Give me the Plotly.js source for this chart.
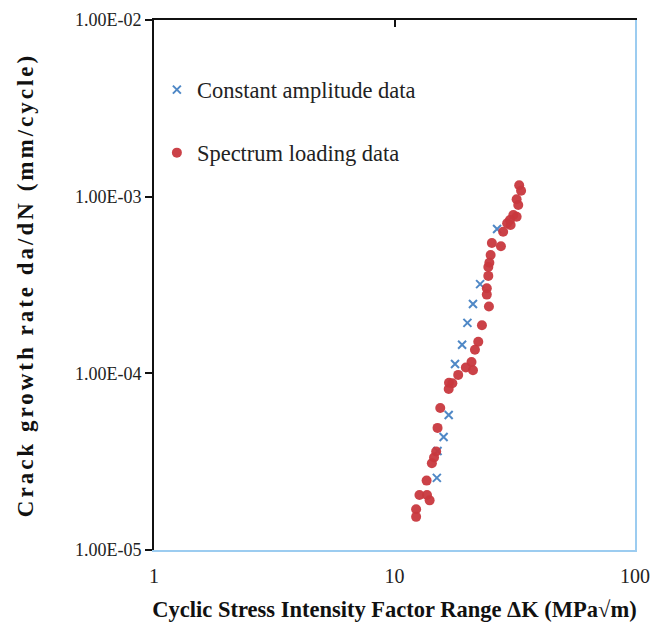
<!DOCTYPE html>
<html>
<head>
<meta charset="utf-8">
<script src="https://cdn.plot.ly/plotly-3.0.1.min.js"></script>
<style>
html,body{margin:0;padding:0;background:#fff;}
#chart{width:654px;height:634px;}
#chart .ytitle{letter-spacing:3px;}
</style>
</head>
<body>
<div id="chart"></div>
<script>
// Constant amplitude data (ΔK in MPa√m, da/dN in mm/cycle)
const caDeltaK = [15.0, 15.1, 16.0, 16.8, 17.85, 19.1, 20.1, 21.2, 22.7, 26.7];
const caRate   = [2.56e-5, 3.63e-5, 4.36e-5, 5.81e-5, 1.13e-4, 1.45e-4, 1.93e-4, 2.47e-4, 3.20e-4, 6.56e-4];

// Spectrum loading data
const slDeltaK = [33.0, 33.6, 32.2, 32.7, 31.2, 32.2, 30.2, 29.4, 30.4, 28.3,
                  25.4, 27.7, 25.1, 24.8, 24.55, 24.55, 24.2, 24.2, 24.7, 23.1,
                  22.3, 21.6, 20.9, 19.8, 21.2, 18.4, 16.85, 17.4, 16.8, 15.5,
                  15.1, 14.9, 14.6, 14.3, 13.6, 12.7, 13.65, 14.0, 12.3, 12.3];
const slRate   = [1.16e-3, 1.08e-3, 9.66e-4, 8.97e-4, 7.87e-4, 7.70e-4, 7.38e-4, 7.07e-4, 6.91e-4, 6.33e-4,
                  5.47e-4, 5.24e-4, 4.68e-4, 4.23e-4, 4.00e-4, 3.56e-4, 3.03e-4, 2.79e-4, 2.39e-4, 1.87e-4,
                  1.51e-4, 1.36e-4, 1.16e-4, 1.08e-4, 1.04e-4, 9.80e-5, 8.85e-5, 8.78e-5, 8.15e-5, 6.36e-5,
                  4.91e-5, 3.61e-5, 3.34e-5, 3.10e-5, 2.47e-5, 2.05e-5, 2.05e-5, 1.91e-5, 1.70e-5, 1.54e-5];

const xTickVals = [1, 10, 100];
const xTickText = ['1', '10', '100'];
const yTickVals = [1e-5, 1e-4, 1e-3, 1e-2];
const yTickText = ['1.00E-05', '1.00E-04', '1.00E-03', '1.00E-02'];

const serif = 'Liberation Serif, Times New Roman, serif';
const lightBlue = '#9cccf0';

const traces = [
  {
    x: caDeltaK, y: caRate, type: 'scatter', mode: 'markers',
    name: 'Constant amplitude data',
    marker: {symbol: 'x-thin-open', size: 8, color: '#4f88c6', line: {width: 2, color: '#4f88c6'}},
    legend: 'legend'
  },
  {
    x: slDeltaK, y: slRate, type: 'scatter', mode: 'markers',
    name: 'Spectrum loading data',
    marker: {symbol: 'circle', size: 10, color: '#c8383e', opacity: 0.95},
    legend: 'legend2'
  },
  {x: [], y: [], xaxis: 'x2', yaxis: 'y2', showlegend: false, hoverinfo: 'skip'}
];

const layout = {
  width: 654, height: 634,
  margin: {l: 154, r: 19, t: 20, b: 84},
  paper_bgcolor: '#fff', plot_bgcolor: '#fff',
  font: {family: serif, color: '#222'},
  xaxis: {
    type: 'log', range: [0, 2],
    tickvals: xTickVals, ticktext: xTickText,
    showgrid: false, zeroline: false,
    showline: true, linecolor: lightBlue, linewidth: 2,
    ticks: '', tickfont: {family: serif, size: 20, color: '#222'},
    ticklabelstandoff: 7,
    title: {text: '<b>Cyclic Stress Intensity Factor Range ΔK (MPa√m)</b>', font: {family: serif, size: 22.5, color: '#111'}, standoff: 15}
  },
  yaxis: {
    type: 'log', range: [-5, -2],
    tickvals: yTickVals, ticktext: yTickText,
    showgrid: false, zeroline: false,
    showline: true, linecolor: '#111', linewidth: 2,
    ticks: 'outside', ticklen: 7, tickwidth: 2, tickcolor: '#111',
    tickfont: {family: serif, size: 18, color: '#222'},
    title: {text: '<b>Crack growth rate da/dN (mm/cycle)</b>', font: {family: serif, size: 23, color: '#111'}, standoff: 35}
  },
  xaxis2: {
    type: 'log', range: [0, 2], overlaying: 'x', side: 'top',
    tickvals: [10], showticklabels: false,
    showgrid: false, zeroline: false,
    showline: true, linecolor: '#111', linewidth: 2,
    ticks: 'inside', ticklen: 7, tickwidth: 2, tickcolor: '#111'
  },
  yaxis2: {
    type: 'log', range: [-5, -2], overlaying: 'y', side: 'right',
    showticklabels: false, ticks: '',
    showgrid: false, zeroline: false,
    showline: true, linecolor: lightBlue, linewidth: 2
  },
  legend: {
    x: 0.006, y: 0.868, xanchor: 'left', yanchor: 'middle',
    bgcolor: 'rgba(0,0,0,0)', font: {family: serif, size: 22.5, color: '#222'}
  },
  legend2: {
    x: 0.006, y: 0.749, xanchor: 'left', yanchor: 'middle',
    bgcolor: 'rgba(0,0,0,0)', font: {family: serif, size: 22.5, color: '#222'}
  },
  showlegend: true
};

Plotly.newPlot('chart', traces, layout, {displayModeBar: false, staticPlot: true});
</script>
</body>
</html>
